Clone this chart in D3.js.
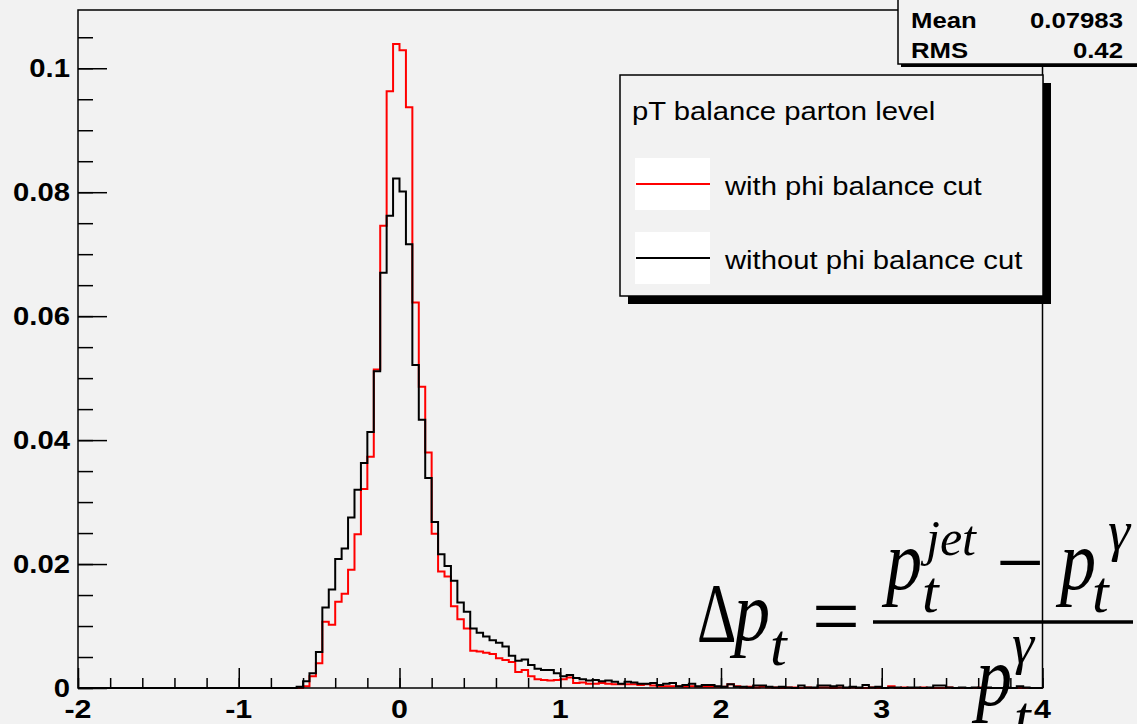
<!DOCTYPE html>
<html>
<head>
<meta charset="utf-8">
<script src="https://cdn.jsdelivr.net/npm/d3@7"></script>
<style>
  body { margin: 0; background: #f2f2f2; }
  svg { display: block; }
</style>
</head>
<body>
<div id="chart"></div>
<script>
const width = 1137;
const height = 724;

// histogram binning (150 bins from -2 to 4), filled bins start at -0.68
const binWidth = 0.04;
const firstEdge = -0.68;

// with phi balance cut (red)
const withCut = [
  0, 0, 0.0003, 0.0019, 0.0040, 0.0107, 0.0102, 0.0139, 0.0152, 0.0191,
  0.0248, 0.0321, 0.0373, 0.0514, 0.0746, 0.0963, 0.1039, 0.1029, 0.0937, 0.0622,
  0.0486, 0.0380, 0.0249, 0.0188, 0.0180, 0.0132, 0.0111, 0.0096, 0.0060, 0.0059,
  0.0057, 0.0055, 0.0048, 0.0045, 0.0042, 0.0026, 0.0029, 0.0019, 0.0014, 0.0013,
  0.0012, 0.0013, 0.0014, 0.0017, 0.0008, 0.0009, 0.0007, 0.0007, 0.0008, 0.0007,
  0.0006, 0.0006, 0.0006, 0.0006, 0.0005, 0.0006, 0.0004, 0.0003, 0.0003, 0.0003,
  0.0003, 0.0002, 0.0003, 0.0002, 0.0002, 0.0002, 0.0002,
  0.0002, 0.0006, 0.0003, 0.0001, 0.0002, 0.0001, 0.0002, 0.0001, 0.0001, 0,
  0.0001, 0.0001, 0, 0.0001, 0, 0.0001, 0.0001, 0, 0.0001, 0,
  0.0001, 0, 0, 0.0001, 0, 0, 0.0003, 0, 0.0001, 0,
  0, 0.0001, 0, 0, 0, 0.0001, 0, 0, 0, 0,
  0.0001, 0, 0, 0, 0, 0, 0, 0, 0, 0
];

// without phi balance cut (black)
const withoutCut = [
  0, 0.0002, 0.0011, 0.0024, 0.0058, 0.0130, 0.0159, 0.0208, 0.0225, 0.0275,
  0.0320, 0.0363, 0.0413, 0.0511, 0.0670, 0.0762, 0.0822, 0.0801, 0.0716, 0.0521,
  0.0433, 0.0339, 0.0268, 0.0216, 0.0197, 0.0173, 0.0138, 0.0123, 0.0096, 0.0089,
  0.0083, 0.0077, 0.0073, 0.0067, 0.0052, 0.0044, 0.0046, 0.0037, 0.0031, 0.0029,
  0.0029, 0.0024, 0.0019, 0.0021, 0.0016, 0.0014, 0.0012, 0.0013, 0.0011, 0.0012,
  0.0010, 0.0007, 0.0010, 0.0009, 0.0007, 0.0007, 0.0008, 0.0005, 0.0007, 0.0008,
  0.0003, 0.0005, 0.0007, 0.0003, 0.0005, 0.0005, 0.0003,
  0.0002, 0.0006, 0.0002, 0.0002, 0.0001, 0.0004, 0.0004, 0.0002, 0.0001, 0.0002,
  0.0001, 0, 0.0004, 0.0001, 0.0001, 0.0004, 0.0004, 0.0003, 0.0004, 0.0001,
  0.0002, 0.0001, 0.0005, 0.0001, 0.0002, 0, 0.0001, 0.0001, 0, 0.0001,
  0.0001, 0, 0.0001, 0.0004, 0.0004, 0.0001, 0, 0.0001, 0, 0.0001,
  0, 0.0001, 0, 0, 0.0001, 0, 0.0003, 0.0001, 0, 0
];

const xTicks = [-2, -1, 0, 1, 2, 3, 4];
const yTicks = [0, 0.02, 0.04, 0.06, 0.08, 0.1];
const yTickLabels = ["0", "0.02", "0.04", "0.06", "0.08", "0.1"];
const legendTitle = "pT balance parton level";
const legendLabels = ["with phi balance cut", "without phi balance cut"];
const statNames = ["Mean", "RMS"];
const statValues = ["0.07983", "0.42"];

// the original canvas is a bit wider than tall, text looks stretched
const sx = 1.17;

const svg = d3
  .select("#chart")
  .append("svg")
  .attr("width", width)
  .attr("height", height);

svg.append("rect").attr("width", width).attr("height", height).attr("fill", "#f2f2f2");

const xScale = d3.scaleLinear().domain([-2, 4]).range([78, 1042.5]);
const yScale = d3.scaleLinear().domain([0, 0.1094]).range([688, 10]);

// helper for stretched text
const stretchText = (parent, x, y, str, opts = {}) =>
  parent
    .append("text")
    .attr("transform", "translate(" + x + "," + y + ") scale(" + (opts.scale || sx) + ",1)")
    .attr("text-anchor", opts.anchor || "start")
    .attr("font-family", opts.family || "'Liberation Sans', Arial, sans-serif")
    .attr("font-size", opts.size || 25)
    .attr("font-weight", opts.weight || "normal")
    .attr("font-style", opts.style || "normal")
    .attr("fill", "#000")
    .text(str);

// histogram outlines
const histPoints = (vals) => {
  const pts = [[-2, 0], [firstEdge, 0]];
  vals.forEach((v, i) => {
    const lo = firstEdge + i * binWidth;
    pts.push([lo, v], [lo + binWidth, v]);
  });
  pts.push([firstEdge + vals.length * binWidth, 0], [4, 0]);
  return pts;
};

const line = d3.line().x((d) => xScale(d[0])).y((d) => yScale(d[1]));

svg.append("path")
  .attr("d", line(histPoints(withCut)))
  .attr("fill", "none")
  .attr("stroke", "#ff0000")
  .attr("stroke-width", 2);

svg.append("path")
  .attr("d", line(histPoints(withoutCut)))
  .attr("fill", "none")
  .attr("stroke", "#000")
  .attr("stroke-width", 2);

// frame
svg.append("rect")
  .attr("x", xScale(-2))
  .attr("y", yScale(0.1094))
  .attr("width", xScale(4) - xScale(-2))
  .attr("height", yScale(0) - yScale(0.1094))
  .attr("fill", "none")
  .attr("stroke", "#000")
  .attr("stroke-width", 1.5);

// axes, ticks pointing inwards
const xMajor = d3.axisBottom(xScale).tickValues(xTicks).tickSizeInner(-20).tickSizeOuter(0).tickFormat("");
const xMinor = d3.axisBottom(xScale).tickValues(d3.range(-2, 4.001, 0.2)).tickSizeInner(-10).tickSizeOuter(0).tickFormat("");
const yMajor = d3.axisLeft(yScale).tickValues(yTicks).tickSizeInner(-29).tickSizeOuter(0).tickFormat("");
const yMinor = d3.axisLeft(yScale).tickValues(d3.range(0, 0.1051, 0.005)).tickSizeInner(-15).tickSizeOuter(0).tickFormat("");

[xMajor, xMinor].forEach((ax) => {
  svg.append("g").attr("transform", "translate(0," + yScale(0) + ")").call(ax);
});
[yMajor, yMinor].forEach((ax) => {
  svg.append("g").attr("transform", "translate(" + xScale(-2) + ",0)").call(ax);
});
svg.selectAll(".domain").remove();
svg.selectAll(".tick line").attr("stroke", "#000").attr("stroke-width", 1.5);

const labels = svg.append("g");
yTicks.forEach((t, i) => {
  stretchText(labels, 70, yScale(t) + 9, yTickLabels[i], { anchor: "end", weight: "bold", size: 25 });
});
xTicks.forEach((t) => {
  stretchText(labels, xScale(t), 718, String(t), { anchor: "middle", weight: "bold", size: 26 });
});

// stats box
const stats = svg.append("g");
stats.append("rect").attr("x", 901).attr("y", -5).attr("width", 250).attr("height", 72).attr("fill", "#000");
stats.append("rect").attr("x", 898).attr("y", -5).attr("width", 250).attr("height", 69)
  .attr("fill", "#f2f2f2").attr("stroke", "#000").attr("stroke-width", 1.5);
statNames.forEach((n, i) => {
  stretchText(stats, 911, 28 + i * 30, n, { weight: "bold", size: 22 });
  stretchText(stats, 1123, 28 + i * 30, statValues[i], { anchor: "end", weight: "bold", size: 22 });
});

// legend
const legend = svg.append("g");
legend.append("rect").attr("x", 628).attr("y", 83).attr("width", 423).attr("height", 221).attr("fill", "#000");
legend.append("rect").attr("x", 620).attr("y", 75).attr("width", 423).attr("height", 221)
  .attr("fill", "#f2f2f2").attr("stroke", "#000").attr("stroke-width", 1.5);
stretchText(legend, 632, 120, legendTitle, { size: 25 });
const legendColors = ["#ff0000", "#000"];
legendLabels.forEach((lab, i) => {
  const y0 = i === 0 ? 158 : 232;
  legend.append("rect").attr("x", 635).attr("y", y0).attr("width", 75).attr("height", 52).attr("fill", "#fff");
  legend.append("line").attr("x1", 636).attr("x2", 710).attr("y1", y0 + 26).attr("y2", y0 + 26)
    .attr("stroke", legendColors[i]).attr("stroke-width", 2);
  stretchText(legend, 725, y0 + 37, lab, { size: 25 });
});

// formula  Δp_t = (p_t^jet - p_t^γ) / p_t^γ
const f = svg.append("g");
const serif = "'Liberation Serif', 'Times New Roman', serif";
const it = (x, y, s, size, sc) => stretchText(f, x, y, s, { family: serif, style: "italic", size: size, scale: sc || 1 });
const up = (x, y, s, size, sc) => stretchText(f, x, y, s, { family: serif, size: size, scale: sc || 1 });
up(697, 642, "\u0394", 85, 0.72);
it(734, 640, "p", 85, 0.85);
it(770, 665, "t", 60);
up(812, 645, "=", 85);
f.append("line").attr("x1", 873).attr("x2", 1133).attr("y1", 622).attr("y2", 622).attr("stroke", "#000").attr("stroke-width", 3.5);
it(886, 589, "p", 85, 0.85);
it(922, 612, "t", 60);
it(926, 555, "jet", 50);
up(996, 591, "\u2212", 85);
it(1060, 589, "p", 85, 0.85);
it(1092, 612, "t", 60);
it(1108, 550, "\u03b3", 56);
it(976, 705, "p", 85, 0.85);
it(1014, 737, "t", 60);
it(1012, 663, "\u03b3", 56);
</script>
</body>
</html>
